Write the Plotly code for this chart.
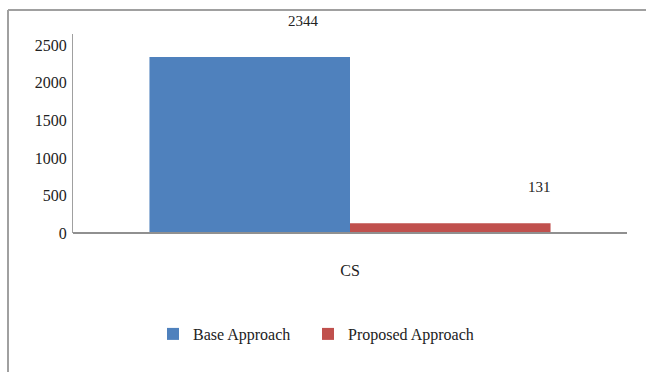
import plotly.graph_objects as go

categories = ["CS"]
series_names = ["Base Approach", "Proposed Approach"]
base_values = [2344]
proposed_values = [131]
y_tick_values = [0, 500, 1000, 1500, 2000, 2500]

colors = ["#4F81BD", "#C0504D"]
font_family = "Liberation Serif, Times New Roman, serif"

fig = go.Figure()
fig.add_trace(go.Bar(x=categories, y=base_values, name=series_names[0],
                     legend="legend",
                     marker=dict(color=colors[0], line=dict(width=0))))
fig.add_trace(go.Bar(x=categories, y=proposed_values, name=series_names[1],
                     legend="legend2",
                     marker=dict(color=colors[1], line=dict(width=0))))

# value labels (offset to the right and above, as in the reference)
label_shifts = [-47, 189]
for vals, xs in zip([base_values, proposed_values], label_shifts):
    for c, v in zip(categories, vals):
        fig.add_annotation(x=c, y=v, text=str(v), showarrow=False,
                           xshift=xs, yshift=36,
                           font=dict(family=font_family, size=15, color="#222"))

L, R, T, B = 73, 19, 34, 139
W, H = 646, 372
pw, ph = W - L - R, H - T - B
def px(x):
    return (x - L) / pw
def py(y):
    return (H - B - y) / ph

# outer frame (top and left edges)
fig.add_shape(type="line", xref="paper", yref="paper",
              x0=px(8), x1=px(646), y0=py(10), y1=py(10),
              line=dict(color="#A0A0A0", width=2))
fig.add_shape(type="line", xref="paper", yref="paper",
              x0=px(8), x1=px(8), y0=py(10), y1=py(372),
              line=dict(color="#A0A0A0", width=2))

legend_common = dict(orientation="h", yanchor="top", y=py(317), xanchor="left",
                     font=dict(family=font_family, size=16, color="#222"),
                     bgcolor="rgba(0,0,0,0)", itemwidth=30)

fig.update_layout(
    width=W, height=H,
    margin=dict(l=L, r=R, t=T, b=B, pad=0),
    paper_bgcolor="white", plot_bgcolor="white",
    barmode="group", bargap=0.276, bargroupgap=0,
    font=dict(family=font_family, size=16, color="#222"),
    showlegend=True,
    legend=dict(x=px(153), **legend_common),
    legend2=dict(x=px(308), **legend_common),
    xaxis=dict(showgrid=False, zeroline=False, showline=False,
               ticks="", ticklabelstandoff=26,
               tickfont=dict(family=font_family, size=16, color="#222")),
    yaxis=dict(range=[0, 2650], tickvals=y_tick_values,
               ticktext=[str(v) for v in y_tick_values],
               showgrid=False, zeroline=False,
               showline=True, linecolor="#A0A0A0", linewidth=1,
               ticks="", ticklabelstandoff=2,
               tickfont=dict(family=font_family, size=16, color="#222")),
)
# x axis baseline
fig.add_shape(type="line", xref="paper", yref="paper",
              x0=0, x1=1, y0=0, y1=0,
              line=dict(color="#909090", width=2))

fig.write_html("out.html")
